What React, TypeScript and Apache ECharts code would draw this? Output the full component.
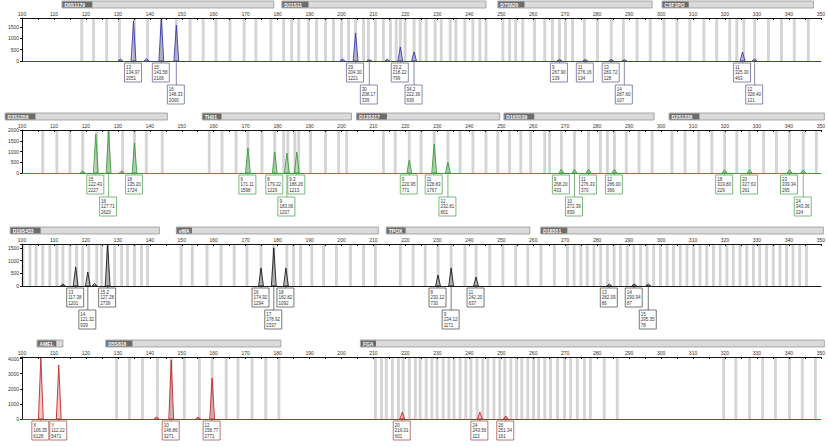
import React, { useEffect, useRef } from "react";
import * as echarts from "echarts";

const X_MIN = 100;
const X_MAX = 350;
const FONT = "Liberation Sans, Arial, sans-serif";

// ---------------- Row 1 (blue dye) ----------------
const blueLocusNames = ["D8S1179", "D21S11", "D7S820", "CSF1PO"];
const blueLocusStart = [112.5, 181.3, 248.9, 300.3];
const blueLocusEnd = [178.8, 245.2, 297.2, 347.7];
const blueBins = [
  118.7, 122.4, 126.5, 130.5, 135.2, 139.3, 143.6, 148.3, 152.6, 156.7, 160.7, 165.1, 169.5, 173.2, 177.9,
  181.9, 184.4, 186.6, 189.7, 192.2, 195.0, 197.5, 200.0, 202.2, 204.4, 206.9, 208.4, 210.6, 213.1, 215.3,
  217.1, 218.4, 219.9, 222.7, 224.6, 226.5, 229.3, 231.2, 234.0, 235.8, 238.6, 241.1, 243.3, 245.2,
  250.5, 252.6, 254.5, 256.7, 260.4, 263.6, 266.0, 268.2, 270.1, 272.3, 276.0, 280.1, 284.4, 288.2, 292.5, 296.6,
  300.9, 305.0, 309.0, 313.4, 317.4, 321.5, 323.7, 325.9, 329.3, 333.6, 337.7, 341.7, 346.1,
];
const bluePeaks: [number, number][] = [
  [130.8, 90], [134.9, 1770], [139.0, 110], [143.6, 1900], [148.3, 1590],
  [200.3, 90], [204.4, 1240], [208.7, 60], [214.3, 80], [218.4, 620], [222.7, 400],
  [268.2, 80], [276.3, 70], [284.4, 70], [288.5, 60],
  [325.5, 400], [329.3, 90],
];
// [allele, size, height, position(bp), tier]
const blueCalls: [string, string, string, number, number][] = [
  ["13", "134.97", "2051", 134.9, 1],
  ["15", "143.58", "2106", 143.6, 1],
  ["16", "148.33", "2000", 148.3, 2],
  ["29", "204.30", "1221", 204.4, 1],
  ["30", "208.17", "339", 208.7, 2],
  ["33.2", "218.22", "799", 218.4, 1],
  ["34.2", "222.36", "636", 222.7, 2],
  ["9", "267.90", "139", 268.2, 1],
  ["11", "276.16", "134", 276.3, 1],
  ["13", "283.72", "128", 284.4, 1],
  ["14", "287.60", "107", 288.5, 2],
  ["11", "325.30", "463", 325.5, 1],
  ["12", "328.40", "121", 329.3, 2],
];

// ---------------- Row 2 (green dye) ----------------
const greenLocusNames = ["D3S1358", "TH01", "D13S317", "D16S539", "D2S1338"];
const greenLocusStart = [94.7, 156.4, 204.7, 250.8, 302.5];
const greenLocusEnd = [145.5, 203.1, 249.5, 297.8, 351.1];
const greenBins = [
  106.5, 110.9, 115.0, 119.0, 123.4, 127.1, 131.5, 135.2, 138.9, 143.9,
  158.6, 162.6, 167.0, 170.7, 175.1, 179.1, 181.9, 183.2, 185.4, 186.6, 190.3, 195.0, 199.1, 201.6,
  213.1, 216.8, 221.2, 224.9, 229.0, 233.3, 237.1, 241.1, 245.2, 248.9,
  252.6, 256.1, 259.2, 263.6, 265.1, 268.8, 272.9, 277.3, 281.0, 283.2, 285.4, 289.1, 293.1, 297.2,
  303.4, 307.5, 311.8, 315.9, 319.9, 323.7, 327.7, 332.1, 336.1, 340.2, 344.5, 348.6,
];
const greenPeaks: [number, number][] = [
  [119.0, 90], [123.1, 1810], [127.1, 1990], [131.2, 100], [135.2, 1400],
  [170.7, 1160], [179.1, 980], [182.9, 930], [186.0, 980],
  [221.2, 600], [229.0, 1350], [233.3, 510],
  [268.8, 170], [272.9, 170], [277.3, 170], [285.4, 170],
  [319.9, 150], [327.7, 150], [340.2, 150], [344.5, 140],
];
const greenCalls: [string, string, string, number, number][] = [
  ["15", "122.43", "2227", 123.1, 1],
  ["16", "127.71", "2620", 127.1, 2],
  ["18", "135.20", "1724", 135.2, 1],
  ["6", "171.11", "1598", 170.7, 1],
  ["8", "179.22", "1229", 179.1, 1],
  ["9", "183.06", "1207", 182.9, 2],
  ["9.3", "186.26", "1213", 186.0, 1],
  ["9", "220.95", "771", 221.2, 1],
  ["11", "228.83", "1767", 229.0, 1],
  ["12", "232.81", "801", 233.3, 2],
  ["9", "268.20", "433", 268.8, 1],
  ["10", "272.36", "839", 272.9, 2],
  ["11", "276.33", "370", 277.3, 1],
  ["12", "286.00", "366", 285.4, 1],
  ["18", "319.80", "229", 319.9, 1],
  ["20", "327.63", "261", 327.7, 1],
  ["23", "339.34", "265", 340.2, 1],
  ["24", "343.36", "224", 344.5, 2],
];

// ---------------- Row 3 (black dye) ----------------
const blackLocusNames = ["D19S433", "vWA", "TPOX", "D18S51"];
const blackLocusStart = [96.3, 148.3, 214.0, 262.3];
const blackLocusEnd = [143.0, 211.5, 258.9, 350.8];
const blackBins = [
  100.3, 102.5, 104.4, 106.5, 108.7, 110.9, 112.8, 115.0, 117.1, 119.0, 120.9, 123.4, 124.9, 126.8, 129.0,
  131.2, 133.0, 135.2, 137.4, 139.3,
  149.8, 153.3, 157.9, 162.3, 166.4, 170.4, 174.8, 178.8, 182.9, 185.0, 187.2, 190.7, 194.4, 198.4, 202.8,
  206.9, 210.6,
  218.4, 222.4, 226.2, 230.2, 234.3, 238.6, 242.1, 246.4, 250.5, 254.5, 258.3,
  262.4, 266.6, 270.7, 272.8, 274.9, 276.9, 279.0, 281.1, 283.2, 285.3, 287.3, 289.4, 291.5, 293.6, 295.6,
  297.7, 299.8, 301.9, 303.9, 306.0, 308.1, 310.2, 312.2, 314.3, 316.4, 318.5, 320.6, 322.6, 324.7, 326.8,
  328.9, 330.9, 333.0, 335.1, 337.2, 339.3, 341.3, 343.4, 345.5,
];
const blackPeaks: [number, number][] = [
  [112.8, 80], [116.8, 750], [120.6, 550], [122.7, 100], [126.8, 1650],
  [174.8, 710], [178.8, 1500], [182.6, 710],
  [230.2, 430], [234.3, 710], [242.1, 350],
  [283.8, 80], [291.6, 80], [296.0, 80],
];
const blackCalls: [string, string, string, number, number][] = [
  ["13", "117.38", "1201", 116.8, 1],
  ["14", "121.32", "939", 120.6, 2],
  ["15.2", "127.28", "2739", 126.8, 1],
  ["16", "174.92", "1294", 174.8, 1],
  ["17", "178.92", "2337", 178.8, 2],
  ["18", "182.82", "1092", 182.6, 1],
  ["8", "230.12", "730", 230.2, 1],
  ["9", "234.12", "1171", 234.3, 2],
  ["11", "242.20", "637", 242.1, 1],
  ["13", "282.09", "86", 283.8, 1],
  ["14", "290.94", "87", 291.6, 1],
  ["15", "295.35", "78", 296.0, 2],
];

// ---------------- Row 4 (red dye) ----------------
const redLocusNames = ["AMEL", "D5S818", "FGA"];
const redLocusStart = [104.7, 126.2, 205.9];
const redLocusEnd = [112.8, 181.0, 351.1];
const redBins = [
  129.6, 133.6, 137.7, 142.4, 146.7, 150.8, 155.5, 159.5, 163.9, 167.6, 172.0, 176.3, 180.4,
  210.6, 212.5, 214.0, 215.9, 217.8, 219.3, 221.2, 223.1, 224.6, 226.5, 228.3, 229.9, 231.8, 233.6, 235.2,
  237.1, 238.9, 240.5, 242.4, 244.2, 245.8, 247.7, 249.5, 251.1, 253.0, 254.8, 256.4, 258.3, 260.1, 261.7,
  263.6, 265.4, 267.6, 269.8, 271.7, 273.8, 276.0, 277.9, 282.2, 286.3,
  319.6, 323.4, 327.7, 331.8, 335.8, 340.2, 344.2, 348.3,
];
const redPeaks: [number, number][] = [
  [105.9, 4100], [111.5, 3570],
  [142.1, 130], [146.7, 3900], [155.1, 130], [159.5, 2710],
  [219.0, 460], [243.3, 460], [251.4, 200],
];
const redCalls: [string, string, string, number, number][] = [
  ["X", "106.35", "6128", 105.9, 1],
  ["Y", "112.22", "5471", 111.5, 1],
  ["10", "146.86", "3271", 146.7, 1],
  ["12", "158.77", "2771", 159.5, 1],
  ["20", "219.01", "601", 219.0, 1],
  ["24", "243.56", "113", 243.3, 1],
  ["26", "251.34", "161", 251.4, 1],
];

// y-axis scales per panel (values)
const yMaxes = [1900, 2000, 1650, 4100];
const yIntervals = [500, 500, 500, 1000];

// layout & styles (not data)
const rowTops = [18, 130, 244, 357];
const rowHeights = [43, 43, 42, 62];
const rowColors = ["#3a3aa8", "#3c9c3c", "#1a1a1a", "#c02a2a"];
const rowFills = ["rgba(58,58,168,0.25)", "rgba(60,156,60,0.25)", "rgba(26,26,26,0.2)", "rgba(192,42,42,0.25)"];
const boxStrokes = ["#6a6aa0", "#5aa85a", "#555555", "#b05050"];

export default function App() {
  const ref = useRef<HTMLDivElement>(null);

  useEffect(() => {
    if (!ref.current) return;
    const chart = echarts.init(ref.current, null, { renderer: "svg" });

    const rows = [
      { names: blueLocusNames, starts: blueLocusStart, ends: blueLocusEnd, bins: blueBins, peaks: bluePeaks, calls: blueCalls },
      { names: greenLocusNames, starts: greenLocusStart, ends: greenLocusEnd, bins: greenBins, peaks: greenPeaks, calls: greenCalls },
      { names: blackLocusNames, starts: blackLocusStart, ends: blackLocusEnd, bins: blackBins, peaks: blackPeaks, calls: blackCalls },
      { names: redLocusNames, starts: redLocusStart, ends: redLocusEnd, bins: redBins, peaks: redPeaks, calls: redCalls },
    ];

    const grid: any[] = [];
    const xAxis: any[] = [];
    const yAxis: any[] = [];
    const series: any[] = [];

    rows.forEach((r, k) => {
      const yMax = yMaxes[k];
      const interval = yIntervals[k];
      const color = rowColors[k];
      grid.push({ left: 22, right: 3, top: rowTops[k], height: rowHeights[k], containLabel: false });
      xAxis.push({
        type: "value", gridIndex: k, position: "top", min: X_MIN, max: X_MAX, interval: 10,
        axisLine: { show: true, onZero: false, lineStyle: { color: "#111", width: 1 } },
        axisTick: { show: true, inside: true, length: 2, lineStyle: { color: "#111" } },
        minorTick: { show: true, splitNumber: 2, length: 2, lineStyle: { color: "#111" } },
        axisLabel: { show: true, fontSize: 5, color: "#333", margin: 2, fontFamily: FONT },
        splitLine: { show: false },
        z: 6,
      });
      xAxis.push({
        type: "value", gridIndex: k, position: "bottom", min: X_MIN, max: X_MAX,
        axisLine: { show: true, onZero: false, lineStyle: { color, width: 1 } },
        axisTick: { show: false }, axisLabel: { show: false }, splitLine: { show: false },
        z: 6,
      });
      yAxis.push({
        type: "value", gridIndex: k, min: 0, max: yMax, interval,
        axisLine: { show: true, lineStyle: { color: "#111", width: 1 } },
        axisTick: { show: true, length: 2, lineStyle: { color: "#111" } },
        axisLabel: {
          fontSize: 5, color: "#333", margin: 3, fontFamily: FONT,
          formatter: (v: number) => (v % interval === 0 ? String(v) : ""),
        },
        splitLine: { show: false },
        z: 6,
      });

      // allele bins
      series.push({
        type: "custom", xAxisIndex: 2 * k, yAxisIndex: k, z: 1, clip: false, silent: true,
        data: r.bins.map((b) => [b, 0]),
        renderItem: (params: any, api: any) => {
          const b = api.value(0);
          const p1 = api.coord([b - 0.45, yMax]);
          const p2 = api.coord([b + 0.45, 0]);
          return {
            type: "rect",
            shape: { x: p1[0], y: p1[1], width: p2[0] - p1[0], height: p2[1] - p1[1] },
            style: { fill: "#d4d4d4" },
          };
        },
      });

      // peaks
      series.push({
        type: "custom", xAxisIndex: 2 * k, yAxisIndex: k, z: 3, clip: false, silent: true,
        data: r.peaks,
        renderItem: (params: any, api: any) => {
          const s = api.value(0);
          const h = api.value(1);
          const p0 = api.coord([s - 0.75, 0]);
          const p1 = api.coord([s, h]);
          const p2 = api.coord([s + 0.75, 0]);
          return {
            type: "polygon",
            shape: { points: [p0, p1, p2] },
            style: { fill: rowFills[k], stroke: color, lineWidth: 0.9 },
          };
        },
      });

      // allele call boxes
      series.push({
        type: "custom", xAxisIndex: 2 * k, yAxisIndex: k, z: 4, clip: false, silent: true,
        data: r.calls.map((c) => [c[3], 0, c[4]]),
        renderItem: (params: any, api: any) => {
          const call = r.calls[params.dataIndex];
          const pos = api.value(0);
          const tier = api.value(2);
          const c = api.coord([pos, 0]);
          const bx = c[0] - 9;
          const by = c[1] + (tier === 1 ? 2 : 24);
          return {
            type: "group",
            children: [
              { type: "line", shape: { x1: c[0], y1: c[1], x2: c[0], y2: by }, style: { stroke: boxStrokes[k], lineWidth: 0.8 } },
              { type: "rect", shape: { x: bx, y: by, width: 17, height: 19 }, style: { fill: "#fff", stroke: boxStrokes[k], lineWidth: 0.8 } },
              {
                type: "text",
                style: {
                  text: call[0] + "\n" + call[1] + "\n" + call[2],
                  x: bx + 1.5, y: by + 1.5, fontSize: 4.5, lineHeight: 5.6,
                  fill: "#333", fontFamily: FONT, verticalAlign: "top", align: "left",
                },
              },
            ],
          };
        },
      });

      // locus header bars
      series.push({
        type: "custom", xAxisIndex: 2 * k, yAxisIndex: k, z: 4, clip: false, silent: true,
        data: r.starts.map((s, i) => [s, 0, r.ends[i]]),
        renderItem: (params: any, api: any) => {
          const name = r.names[params.dataIndex];
          const a = api.coord([api.value(0), yMax]);
          const b = api.coord([api.value(2), yMax]);
          const y = a[1] - 17;
          const w = name.length * 3.7 + 4;
          return {
            type: "group",
            children: [
              { type: "rect", shape: { x: a[0], y, width: b[0] - a[0], height: 7 }, style: { fill: "#dadada", stroke: "#8a8a8a", lineWidth: 0.7 } },
              { type: "rect", shape: { x: a[0] + 0.5, y: y + 0.5, width: w, height: 6 }, style: { fill: "#6c6c6c" } },
              {
                type: "text",
                style: {
                  text: name, x: a[0] + 2.5, y: y + 3.6, fontSize: 5, fontWeight: "bold",
                  fill: "#fff", fontFamily: FONT, verticalAlign: "middle", align: "left",
                },
              },
            ],
          };
        },
      });
    });

    chart.setOption({ animation: false, backgroundColor: "#fff", grid, xAxis, yAxis, series });
    return () => chart.dispose();
  }, []);

  return (
    <div
      ref={ref}
      style={{ position: "fixed", left: 0, top: 0, width: 828, height: 447, background: "#fff" }}
    />
  );
}
